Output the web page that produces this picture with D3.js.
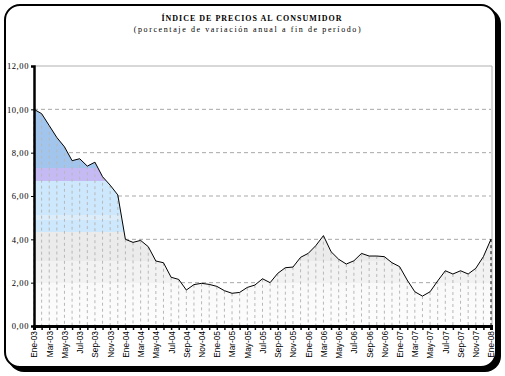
<!doctype html>
<html>
<head>
<meta charset="utf-8">
<script src="https://cdnjs.cloudflare.com/ajax/libs/d3/7.8.5/d3.min.js"></script>
<style>
  body { margin: 0; background: #fff; }
  svg { display: block; }
  .title { font-family: "Liberation Serif", serif; font-weight: bold; font-size: 8px; letter-spacing: 1px; }
  .subtitle { font-family: "Liberation Serif", serif; font-size: 8px; letter-spacing: 1.6px; }
  .ylab { font-family: "Liberation Serif", serif; font-size: 8.5px; letter-spacing: 0.6px; }
  .xlab { font-family: "Liberation Sans", Arial, sans-serif; font-size: 8.3px; }
</style>
</head>
<body>
<svg width="505" height="376"></svg>
<script>
// months and IPC values (% annual variation, end of period)
var months = ["Ene","Feb","Mar","Abr","May","Jun","Jul","Ago","Sep","Oct","Nov","Dic"];
var years = ["03","04","05","06","07","08"];
var categories = [];
years.forEach(function (yy) {
  months.forEach(function (m) { categories.push(m + "-" + yy); });
});
categories = categories.slice(0, 61); // Ene-03 .. Ene-08

var values = [
  10.0, 9.8, 9.25, 8.7, 8.27, 7.63, 7.72, 7.38, 7.56, 6.89, 6.5, 6.05,
  4.0, 3.86, 3.95, 3.66, 3.0, 2.92, 2.25, 2.15, 1.66, 1.91, 1.97, 1.92,
  1.83, 1.63, 1.51, 1.55, 1.78, 1.89, 2.18, 2.0, 2.43, 2.69, 2.72, 3.17,
  3.35, 3.71, 4.17, 3.43, 3.08, 2.86, 3.01, 3.35, 3.23, 3.23, 3.2, 2.92,
  2.74, 2.12, 1.58, 1.38, 1.58, 2.08, 2.55, 2.4, 2.55, 2.4, 2.66, 3.2,
  4.01
];

var yTicks = [0, 2, 4, 6, 8, 10, 12];

var svg = d3.select("svg");

// frame with shadow
svg.append("rect").attr("x", 8).attr("y", 8).attr("width", 493).attr("height", 364)
  .attr("rx", 16).attr("fill", "#000");
svg.append("rect").attr("x", 5).attr("y", 5).attr("width", 491).attr("height", 362)
  .attr("rx", 15).attr("fill", "#fff").attr("stroke", "#000").attr("stroke-width", 2);

svg.append("text").attr("class", "title").attr("x", 252).attr("y", 21)
  .attr("text-anchor", "middle").text("ÍNDICE DE PRECIOS AL CONSUMIDOR");
svg.append("text").attr("class", "subtitle").attr("x", 248).attr("y", 32)
  .attr("text-anchor", "middle").text("(porcentaje de variación anual a fin de período)");

var x = d3.scalePoint().domain(categories).range([34, 491]);
var y = d3.scaleLinear().domain([0, 12]).range([326, 66]);

// banded fill gradient
var defs = svg.append("defs");
var grad = defs.append("linearGradient").attr("id", "bands")
  .attr("gradientUnits", "userSpaceOnUse")
  .attr("x1", 0).attr("x2", 0).attr("y1", y(12)).attr("y2", y(0));
var bands = [
  [12, "#a2c5ee"], [7.3, "#a2c5ee"], [7.3, "#c6baf5"], [6.7, "#c6baf5"],
  [6.7, "#cde8fc"], [5.1, "#cde8fc"], [5.1, "#dcedf9"], [4.9, "#dcedf9"], [4.9, "#cde8fc"],
  [4.35, "#cde8fc"], [4.35, "#ebebeb"], [3.0, "#ebebeb"], [3.0, "#f2f2f2"],
  [2.0, "#f2f2f2"], [2.0, "#f9f9f9"], [0, "#fdfdfd"]
];
bands.forEach(function (b) {
  grad.append("stop").attr("offset", (12 - b[0]) / 12).attr("stop-color", b[1]);
});

// horizontal gridlines
svg.append("g").selectAll("line").data(yTicks.filter(function (d) { return d > 0 && d < 12; }))
  .enter().append("line")
  .attr("x1", 34).attr("x2", 491)
  .attr("y1", function (d) { return y(d); }).attr("y2", function (d) { return y(d); })
  .attr("stroke", "#a8a8a8").attr("stroke-dasharray", "4,3");

// plot area border (top, right)
svg.append("path").attr("d", "M34," + y(12) + "H492V" + y(0))
  .attr("fill", "none").attr("stroke", "#b0b0b0");

// area
var area = d3.area().x(function (d, i) { return x(categories[i]); })
  .y0(y(0)).y1(function (d) { return y(d); });
svg.append("path").datum(values).attr("d", area).attr("fill", "url(#bands)");

// drop lines
svg.append("g").selectAll("line").data(values).enter().append("line")
  .attr("x1", function (d, i) { return x(categories[i]); })
  .attr("x2", function (d, i) { return x(categories[i]); })
  .attr("y1", function (d) { return y(d); }).attr("y2", y(0))
  .attr("stroke", function (d, i) { return i === values.length - 1 ? "#000" : "#b8b8b8"; })
  .attr("stroke-dasharray", "3,3");

// line
var line = d3.line().x(function (d, i) { return x(categories[i]); }).y(function (d) { return y(d); });
svg.append("path").datum(values).attr("d", line)
  .attr("fill", "none").attr("stroke", "#000").attr("stroke-width", 1);

// y axis
var yAxis = svg.append("g").attr("transform", "translate(34,0)")
  .call(d3.axisLeft(y).tickValues(yTicks).tickSize(3)
    .tickFormat(function (d) { return d3.format(".2f")(d).replace(".", ","); }));
yAxis.select(".domain").attr("stroke", "#000").attr("stroke-width", 2.5);
yAxis.selectAll("text").attr("class", "ylab").attr("font-family", null).attr("font-size", null)
  .attr("x", -5).attr("fill", "#000");

// x axis
var xAxis = svg.append("g").attr("transform", "translate(0," + y(0) + ")")
  .call(d3.axisBottom(x).tickSize(4)
    .tickFormat(function (d, i) { return i % 2 === 0 ? d : ""; }));
xAxis.select(".domain").attr("stroke", "#000").attr("stroke-width", 3);
xAxis.selectAll(".tick line").attr("stroke", "#000").attr("stroke-width", 1.5);
xAxis.selectAll("text").attr("class", "xlab").attr("font-family", null).attr("font-size", null)
  .attr("fill", "#000")
  .attr("transform", "rotate(-90)")
  .attr("text-anchor", "end")
  .attr("x", -5).attr("y", 0).attr("dy", "0.35em");
</script>
</body>
</html>
